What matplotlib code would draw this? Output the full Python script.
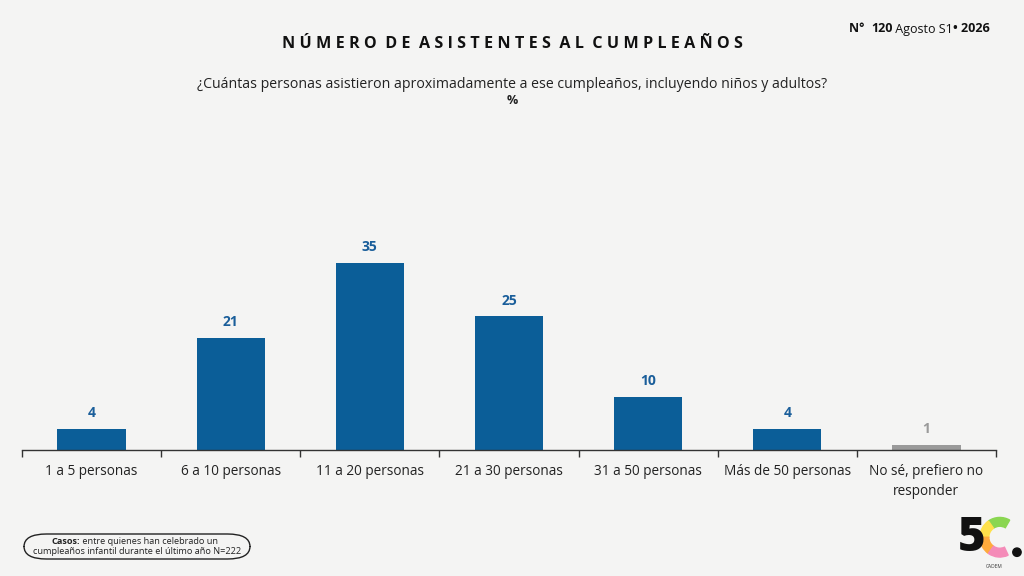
import matplotlib.pyplot as plt
from matplotlib.patches import FancyBboxPatch, Wedge, Circle
import numpy as np

plt.rcParams['font.family'] = ['Open Sans', 'DejaVu Sans']

categorias = ['1 a 5 personas', '6 a 10 personas', '11 a 20 personas', '21 a 30 personas',
              '31 a 50 personas', 'Más de 50 personas', 'No sé, prefiero no\nresponder']
valores = [4, 21, 35, 25, 10, 4, 1]
colores = ['#0b5e98'] * 6 + ['#9a9a9a']

fig = plt.figure(figsize=(10.24, 5.76), dpi=100)
fig.patch.set_facecolor('#f4f4f3')

# axes: x de 22 a 996 px, linea base en y=450 px
ax = fig.add_axes([22 / 1024, 126 / 576, 974 / 1024, 330 / 576])
ax.set_facecolor('none')
x = np.arange(len(categorias))
ax.bar(x, valores, width=0.49, color=colores)
ax.set_xlim(-0.5, len(categorias) - 0.5)
ax.set_ylim(0, 330 / 5.35)

for i, v in enumerate(valores):
    col = '#9a9a9a' if i == len(valores) - 1 else '#1a5e9a'
    ax.text(i, v + 1.6, str(v), ha='center', va='bottom', fontsize=10, fontweight='bold', color=col)

for s in ['top', 'left', 'right']:
    ax.spines[s].set_visible(False)
ax.spines['bottom'].set_color('#333333')
ax.spines['bottom'].set_linewidth(1.0)
ax.set_yticks([])
ax.set_xticks(x)
ax.set_xticklabels(categorias, fontsize=9.8, color='#222222', linespacing=1.45)
ax.tick_params(axis='x', which='major', length=0, pad=10)
ax.set_xticks(np.arange(-0.5, len(categorias)), minor=True)
ax.tick_params(axis='x', which='minor', length=5, width=1, color='#333333', direction='out')

# titulo con espaciado entre letras
titulo = 'NÚMERO DE ASISTENTES AL CUMPLEAÑOS'
titulo_esp = '  '.join(' '.join(w) for w in titulo.split(' '))
fig.text(512 / 1024, 1 - 44 / 576, titulo_esp, ha='center', va='center', fontsize=11.6,
         fontweight='bold', color='#111111')
fig.text(512 / 1024, 1 - 84 / 576,
         '¿Cuántas personas asistieron aproximadamente a ese cumpleaños, incluyendo niños y adultos?',
         ha='center', va='center', fontsize=10.2, color='#222222')
fig.text(512 / 1024, 1 - 100 / 576, '%', ha='center', va='center', fontsize=9,
         fontweight='bold', color='#222222')

# cabecera derecha
t1 = fig.text(849 / 1024, 1 - 29 / 576, 'N°  ', ha='left', va='center', fontsize=9,
              fontweight='bold', color='#111111')
a2 = ax.annotate('120', xy=(1, 0), xycoords=t1, va='bottom', fontsize=9, fontweight='bold',
                 color='#111111', annotation_clip=False)
a3 = ax.annotate(' Agosto S1', xy=(1, 0), xycoords=a2, va='bottom', fontsize=9,
                 color='#111111', annotation_clip=False)
ax.annotate('• 2026', xy=(1, 0), xycoords=a3, va='bottom', fontsize=9, fontweight='bold',
            color='#111111', annotation_clip=False)

# caja de casos
caja = FancyBboxPatch((24 / 1024, 1 - 559 / 576), 226 / 1024, 25 / 576,
                      boxstyle='round,pad=0,rounding_size=0.022', transform=fig.transFigure,
                      facecolor='none', edgecolor='#222222', linewidth=1.0)
fig.add_artist(caja)
c1 = fig.text(52 / 1024, 1 - 541 / 576, 'Casos:', ha='left', va='center', fontsize=6.6,
              fontweight='bold', color='#222222')
ax.annotate(' entre quienes han celebrado un', xy=(1, 0), xycoords=c1, va='bottom', fontsize=6.6,
            color='#222222', annotation_clip=False)
fig.text(137 / 1024, 1 - 552 / 576, 'cumpleaños infantil durante el último año N=222',
         ha='center', va='center', fontsize=6.6, color='#222222')

# logo
fig.text(972 / 1024, 1 - 539 / 576, '5', ha='center', va='center', fontsize=34,
         fontweight='heavy', color='#111111')
logo_ax = fig.add_axes([980 / 1024, 1 - 563 / 576, 44 / 1024, 48 / 576])
logo_ax.set_xlim(-1, 1)
logo_ax.set_ylim(-1.05, 1.05)
logo_ax.set_aspect('equal')
logo_ax.axis('off')
arcos = [(60, 125, '#8ad651'), (125, 180, '#ffe14a'), (180, 235, '#ffaa3c'), (235, 295, '#f48bb8')]
for a0, a1, c in arcos:
    logo_ax.add_patch(Wedge((-0.1, 0.08), 0.9, a0, a1, width=0.4, color=c))
logo_ax.add_patch(Circle((0.68, -0.6), 0.19, color='#111111'))
fig.text(994 / 1024, 1 - 567 / 576, 'CADEM', ha='center', va='center', fontsize=3.5,
         color='#333333')

plt.savefig('out.png', dpi=100, facecolor=fig.get_facecolor())
